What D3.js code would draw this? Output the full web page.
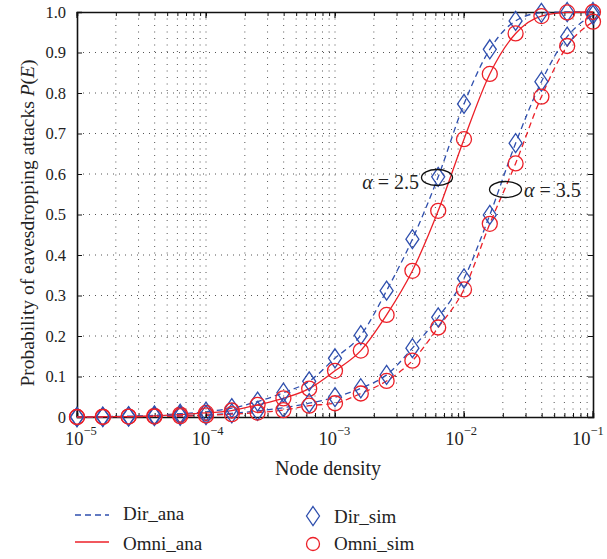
<!DOCTYPE html>
<html>
<head>
<meta charset="utf-8">
<script src="https://cdn.jsdelivr.net/npm/d3@7"></script>
<style>
  body { margin: 0; background: #fff; }
  svg { display: block; }
  text { font-family: "Liberation Serif", "DejaVu Serif", serif; fill: #222; }
</style>
</head>
<body>
<svg id="chart" width="607" height="559"></svg>
<script>
// ---- data ----
const exponents = d3.range(21).map(i => -5 + 0.2 * i); // node density = 10^exponent
const dirA25  = [0, 0.001, 0.002, 0.004, 0.008, 0.013, 0.022, 0.038, 0.060, 0.088, 0.145, 0.202, 0.312, 0.439, 0.593, 0.773, 0.908, 0.978, 0.998, 1.0, 1.0];
const omniA25 = [0, 0.001, 0.001, 0.003, 0.006, 0.010, 0.016, 0.030, 0.046, 0.070, 0.114, 0.164, 0.252, 0.361, 0.509, 0.686, 0.847, 0.947, 0.990, 0.999, 1.0];
const dirA35  = [0, 0, 0.001, 0.002, 0.003, 0.005, 0.009, 0.015, 0.023, 0.034, 0.049, 0.071, 0.104, 0.170, 0.246, 0.342, 0.499, 0.676, 0.828, 0.939, 0.993];
const omniA35 = [0, 0, 0.001, 0.001, 0.002, 0.004, 0.007, 0.011, 0.017, 0.028, 0.034, 0.058, 0.089, 0.139, 0.221, 0.315, 0.477, 0.626, 0.791, 0.916, 0.976];
const yTicks = [0, 0.1, 0.2, 0.3, 0.4, 0.5, 0.6, 0.7, 0.8, 0.9, 1.0];
const yTickLabels = ["0", "0.1", "0.2", "0.3", "0.4", "0.5", "0.6", "0.7", "0.8", "0.9", "1.0"];
const xDecades = [-5, -4, -3, -2, -1];
const legendLines = ["Dir_ana", "Omni_ana"];
const legendMarkers = ["Dir_sim", "Omni_sim"];
const annotationLabels = ["2.5", "3.5"];

const BLUE = "#2f4fae", RED = "#ec2028";

const svg = d3.select("#chart");
const L = 77, R = 593, T = 12, B = 417;
const x = d3.scaleLog().domain([1e-5, 1e-1]).range([L, R]);
const y = d3.scaleLinear().domain([0, 1]).range([B, T]);

// grid
const minorX = [];
xDecades.forEach(e => { for (let k = 1; k <= 9; k++) { const v = k * Math.pow(10, e); if (v <= 1e-1 + 1e-12) minorX.push(v); } });
const grid = svg.append("g");
grid.selectAll("line.vx").data(minorX.filter(v => v > 1e-5 && v < 1e-1)).join("line")
  .attr("x1", d => x(d)).attr("x2", d => x(d)).attr("y1", T).attr("y2", B)
  .attr("stroke", "#555").attr("stroke-width", 1).attr("stroke-dasharray", "1,5.5");
grid.selectAll("line.hy").data(yTicks.filter(v => v > 0 && v < 1)).join("line")
  .attr("x1", L).attr("x2", R).attr("y1", d => y(d)).attr("y2", d => y(d))
  .attr("stroke", "#555").attr("stroke-width", 1).attr("stroke-dasharray", "1,5");

// axes (ticks inward on all sides)
const axB = d3.axisBottom(x).tickValues(minorX).tickSize(-4).tickFormat("");
const axT = d3.axisTop(x).tickValues(minorX).tickSize(-4).tickFormat("");
const axL = d3.axisLeft(y).tickValues(yTicks).tickSize(-5).tickFormat("");
const axR = d3.axisRight(y).tickValues(yTicks).tickSize(-5).tickFormat("");
[[axB, `translate(0,${B})`], [axT, `translate(0,${T})`], [axL, `translate(${L},0)`], [axR, `translate(${R},0)`]]
  .forEach(([ax, tr]) => {
    const g = svg.append("g").attr("transform", tr).call(ax);
    g.select(".domain").attr("stroke", "#111").attr("stroke-width", 1.6);
    g.selectAll(".tick line").attr("stroke", "#111").attr("stroke-width", 1);
  });
[B, T].forEach((yy, i) => {
  svg.append("g").selectAll("line").data(xDecades).join("line")
    .attr("x1", d => x(Math.pow(10, d))).attr("x2", d => x(Math.pow(10, d)))
    .attr("y1", yy).attr("y2", i === 0 ? yy - 6 : yy + 6)
    .attr("stroke", "#111").attr("stroke-width", 1.2);
});

// y tick labels
svg.append("g").selectAll("text").data(yTicks).join("text")
  .attr("x", 66).attr("y", d => y(d) + 5.5).attr("text-anchor", "end")
  .attr("font-size", 16.5).text((d, i) => yTickLabels[i]);

// x tick labels 10^e (the original's labels drift slightly left of their ticks)
const xl = svg.append("g").selectAll("text").data(xDecades).join("text")
  .attr("x", (d, i) => x(Math.pow(10, d)) - 12 - 2.25 * i).attr("y", 445).attr("text-anchor", "start")
  .attr("font-size", 18.5);
xl.append("tspan").text("10");
xl.append("tspan").attr("dy", -10).attr("font-size", 12.5).text(d => "\u2212" + Math.abs(d));

// axis titles
svg.append("text").attr("x", 328).attr("y", 475).attr("text-anchor", "middle")
  .attr("font-size", 20).text("Node density");
const yt = svg.append("text").attr("transform", "translate(34,223) rotate(-90)")
  .attr("text-anchor", "middle").attr("font-size", 19.5);
yt.append("tspan").text("Probability of eavesdropping attacks ");
yt.append("tspan").attr("font-style", "italic").text("P");
yt.append("tspan").text("(");
yt.append("tspan").attr("font-style", "italic").text("E");
yt.append("tspan").text(")");

// series
const seriesList = [
  {key: "dir25", vals: dirA25, color: BLUE, dash: "6,4", marker: "diamond"},
  {key: "omni25", vals: omniA25, color: RED, dash: null, marker: "circle"},
  {key: "dir35", vals: dirA35, color: BLUE, dash: "6,4", marker: "diamond"},
  {key: "omni35", vals: omniA35, color: RED, dash: "6,4", marker: "circle"}
];
const line = d3.line().x(d => x(Math.pow(10, d[0]))).y(d => y(d[1])).curve(d3.curveMonotoneX);
const plot = svg.append("g");
seriesList.forEach(s => {
  const pts = exponents.map((e, i) => [e, s.vals[i]]);
  plot.append("path").attr("d", line(pts)).attr("fill", "none")
    .attr("stroke", s.color).attr("stroke-width", 1.3)
    .attr("stroke-dasharray", s.dash);
});
const diamondPath = "M0,-9.5L6.5,0L0,9.5L-6.5,0Z";
seriesList.forEach(s => {
  const pts = exponents.map((e, i) => [e, s.vals[i]]);
  if (s.marker === "diamond") {
    plot.append("g").selectAll("path").data(pts).join("path")
      .attr("transform", d => `translate(${x(Math.pow(10, d[0]))},${y(d[1])})`)
      .attr("d", diamondPath).attr("fill", "none").attr("stroke", s.color).attr("stroke-width", 1.3);
  } else {
    plot.append("g").selectAll("circle").data(pts).join("circle")
      .attr("cx", d => x(Math.pow(10, d[0]))).attr("cy", d => y(d[1])).attr("r", 7.5)
      .attr("fill", "none").attr("stroke", s.color).attr("stroke-width", 1.3);
  }
});

// annotations
const ann = svg.append("g");
ann.append("ellipse").attr("cx", 437).attr("cy", 177.5).attr("rx", 15.5).attr("ry", 8)
  .attr("fill", "none").attr("stroke", "#111").attr("stroke-width", 1.3);
const a1 = ann.append("text").attr("x", 419).attr("y", 189).attr("text-anchor", "end").attr("font-size", 20);
a1.append("tspan").attr("font-style", "italic").text("\u03b1");
a1.append("tspan").text(" = " + annotationLabels[0]);
ann.append("ellipse").attr("cx", 505.5).attr("cy", 189.5).attr("rx", 16).attr("ry", 8)
  .attr("fill", "none").attr("stroke", "#111").attr("stroke-width", 1.3);
const a2 = ann.append("text").attr("x", 524).attr("y", 197).attr("font-size", 20);
a2.append("tspan").attr("font-style", "italic").text("\u03b1");
a2.append("tspan").text(" = " + annotationLabels[1]);

// legend
const lg = svg.append("g");
lg.append("line").attr("x1", 75).attr("x2", 109).attr("y1", 515).attr("y2", 515)
  .attr("stroke", BLUE).attr("stroke-width", 1.3).attr("stroke-dasharray", "6,4");
lg.append("line").attr("x1", 75).attr("x2", 109).attr("y1", 542).attr("y2", 542)
  .attr("stroke", RED).attr("stroke-width", 1.3);
lg.append("text").attr("x", 123).attr("y", 520).attr("font-size", 19).text(legendLines[0]);
lg.append("text").attr("x", 123).attr("y", 550).attr("font-size", 19).text(legendLines[1]);
lg.append("path").attr("transform", "translate(313,516)").attr("d", diamondPath)
  .attr("fill", "none").attr("stroke", BLUE).attr("stroke-width", 1.3);
lg.append("circle").attr("cx", 313).attr("cy", 544).attr("r", 6.5)
  .attr("fill", "none").attr("stroke", RED).attr("stroke-width", 1.3);
lg.append("text").attr("x", 334).attr("y", 523).attr("font-size", 19).text(legendMarkers[0]);
lg.append("text").attr("x", 334).attr("y", 550).attr("font-size", 19).text(legendMarkers[1]);
</script>
</body>
</html>
